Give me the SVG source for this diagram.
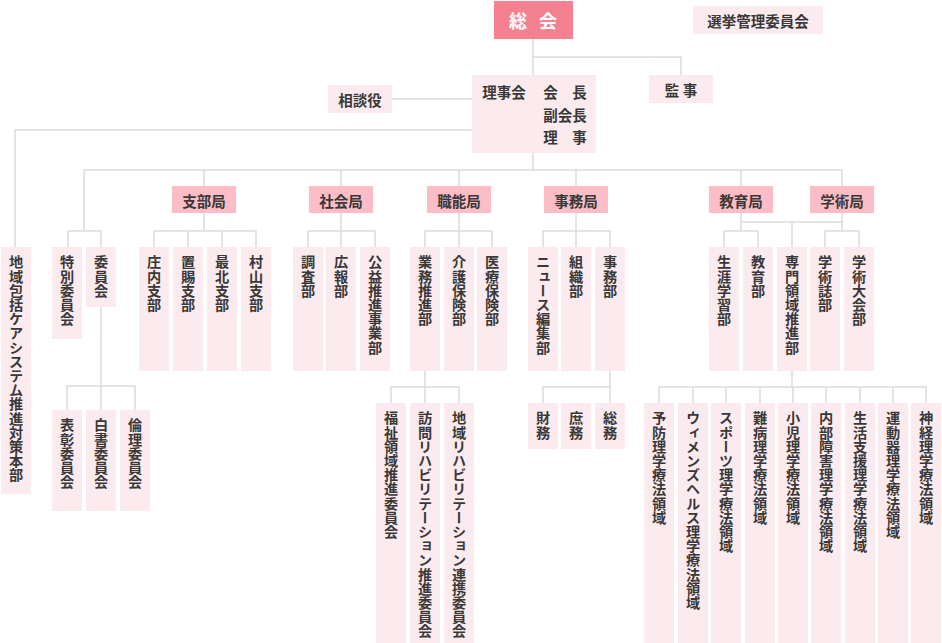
<svg xmlns="http://www.w3.org/2000/svg" width="942" height="643" viewBox="0 0 942 643">
<style>
text{font-family:"Noto Sans CJK JP","Noto Sans CJK SC",sans-serif;fill:#383838;font-size:14.5px;font-weight:bold}
.h{text-anchor:middle;dominant-baseline:central}
.v{writing-mode:vertical-rl;font-size:14.2px}
.p{fill:#fcebee}
.m{fill:#fdbdc6}
.t{fill:#f4818f}
.c{fill:none;stroke:#dcdcdc;stroke-width:1.5}
</style>
<rect width="942" height="643" fill="#fff"/>
<g id="connectors" class="c">
<path d="M533 39V75M533 57H681V75M392 99H472M472 130H15V247M533 153V170"/>
<path d="M84 170H842M84 170V231M68 247V231H101V247"/>
<path d="M204 170V186M204 213V231M154 247V231H256V247M188 231V247M222 231V247"/>
<path d="M341 170V186M341 213V247M308 247V231H375V247"/>
<path d="M459 170V186M459 213V247M425 247V231H492V247"/>
<path d="M576 170V186M576 213V247M543 247V231H610V247"/>
<path d="M741 170V186M741 213V231M842 170V186M842 213V231M741 222H842M792 222V247M724 247V231H758V247M825 247V231H859V247"/>
<path d="M101 307V410M67 410V386H135V410"/>
<path d="M425 371V403M391 403V387H459V403"/>
<path d="M610 371V403M543 403V387H610"/>
<path d="M792 371V387M659 403V387H926V403M693 387V403M726 387V403M760 387V403M793 387V403M826 387V403M860 387V403M893 387V403"/>
</g>
<g id="soukai"><rect class="t" x="494" y="1" width="79" height="38"/><text class="h" x="535" y="20" style="fill:#fff;font-size:18px;letter-spacing:4px">総 会</text></g>
<g id="senkyo"><rect class="p" x="693" y="6" width="130" height="28"/><text class="h" x="758" y="20">選挙管理委員会</text></g>
<g id="kanji"><rect class="p" x="649" y="75" width="64" height="28"/><text class="h" x="681" y="89">監 事</text></g>
<g id="soudanyaku"><rect class="p" x="328" y="85" width="64" height="28"/><text class="h" x="360" y="99">相談役</text></g>
<g id="rijikai"><rect class="p" x="472" y="75" width="124" height="78"/>
<text class="h" x="504" y="91">理事会</text>
<text class="h" x="565" y="91">会　長</text>
<text class="h" x="565" y="114">副会長</text>
<text class="h" x="565" y="136">理　事</text></g>
<g id="shibukyoku"><rect class="m" x="172" y="186" width="64" height="27"/><text class="h" x="204" y="200">支部局</text></g>
<g id="shakaikyoku"><rect class="m" x="309" y="186" width="64" height="27"/><text class="h" x="341" y="200">社会局</text></g>
<g id="shokunoukyoku"><rect class="m" x="427" y="186" width="64" height="27"/><text class="h" x="459" y="200">職能局</text></g>
<g id="jimukyoku"><rect class="m" x="544" y="186" width="64" height="27"/><text class="h" x="576" y="200">事務局</text></g>
<g id="kyouikukyoku"><rect class="m" x="709" y="186" width="64" height="27"/><text class="h" x="741" y="200">教育局</text></g>
<g id="gakujutsukyoku"><rect class="m" x="810" y="186" width="64" height="27"/><text class="h" x="842" y="200">学術局</text></g>

<g id="chiiki"><rect class="p" x="1" y="247" width="30" height="247"/><text class="v" x="16" y="255">地域包括ケアシステム推進対策本部</text></g>
<g id="tokubetsu"><rect class="p" x="52" y="247" width="30" height="92"/><text class="v" x="67" y="255">特別委員会</text></g>
<g id="iinkai"><rect class="p" x="86" y="247" width="30" height="60"/><text class="v" x="101" y="255">委員会</text></g>
<g id="shonai"><rect class="p" x="139" y="247" width="30" height="124"/><text class="v" x="154" y="255">庄内支部</text></g>
<g id="okitama"><rect class="p" x="173" y="247" width="30" height="124"/><text class="v" x="188" y="255">置賜支部</text></g>
<g id="mogami"><rect class="p" x="207" y="247" width="30" height="124"/><text class="v" x="222" y="255">最北支部</text></g>
<g id="murayama"><rect class="p" x="241" y="247" width="30" height="124"/><text class="v" x="256" y="255">村山支部</text></g>
<g id="chousa"><rect class="p" x="293" y="247" width="30" height="124"/><text class="v" x="308" y="255">調査部</text></g>
<g id="kouhou"><rect class="p" x="326" y="247" width="30" height="124"/><text class="v" x="341" y="255">広報部</text></g>
<g id="koueki"><rect class="p" x="360" y="247" width="30" height="124"/><text class="v" x="375" y="255">公益推進事業部</text></g>
<g id="gyoumu"><rect class="p" x="410" y="247" width="30" height="124"/><text class="v" x="425" y="255">業務推進部</text></g>
<g id="kaigo"><rect class="p" x="444" y="247" width="30" height="124"/><text class="v" x="459" y="255">介護保険部</text></g>
<g id="iryou"><rect class="p" x="477" y="247" width="30" height="124"/><text class="v" x="492" y="255">医療保険部</text></g>
<g id="news"><rect class="p" x="528" y="247" width="30" height="124"/><text class="v" x="543" y="255">ニュース編集部</text></g>
<g id="soshiki"><rect class="p" x="561" y="247" width="30" height="124"/><text class="v" x="576" y="255">組織部</text></g>
<g id="jimubu"><rect class="p" x="595" y="247" width="30" height="124"/><text class="v" x="610" y="255">事務部</text></g>
<g id="shougai"><rect class="p" x="709" y="247" width="30" height="124"/><text class="v" x="724" y="255">生涯学習部</text></g>
<g id="kyouikubu"><rect class="p" x="743" y="247" width="30" height="124"/><text class="v" x="758" y="255">教育部</text></g>
<g id="senmon"><rect class="p" x="777" y="247" width="30" height="124"/><text class="v" x="792" y="255">専門領域推進部</text></g>
<g id="gakujutsushi"><rect class="p" x="810" y="247" width="30" height="124"/><text class="v" x="825" y="255">学術誌部</text></g>
<g id="gakujutsutaikai"><rect class="p" x="844" y="247" width="30" height="124"/><text class="v" x="859" y="255">学術大会部</text></g>

<g id="hyoushou"><rect class="p" x="52" y="410" width="30" height="101"/><text class="v" x="67" y="418">表彰委員会</text></g>
<g id="hakusho"><rect class="p" x="86" y="410" width="30" height="101"/><text class="v" x="101" y="418">白書委員会</text></g>
<g id="rinri"><rect class="p" x="120" y="410" width="30" height="101"/><text class="v" x="135" y="418">倫理委員会</text></g>

<g id="fukushi"><rect class="p" x="376" y="403" width="30" height="240"/><text class="v" x="391" y="411">福祉領域推進委員会</text></g>
<g id="houmon"><rect class="p" x="410" y="403" width="30" height="240"/><text class="v" x="425" y="411">訪問リハビリテーション推進委員会</text></g>
<g id="chiikireha"><rect class="p" x="444" y="403" width="30" height="240"/><text class="v" x="459" y="411">地域リハビリテーション連携委員会</text></g>

<g id="zaimu"><rect class="p" x="528" y="403" width="30" height="46"/><text class="v" x="543" y="411">財務</text></g>
<g id="shomu"><rect class="p" x="561" y="403" width="30" height="46"/><text class="v" x="576" y="411">庶務</text></g>
<g id="soumu"><rect class="p" x="595" y="403" width="30" height="46"/><text class="v" x="610" y="411">総務</text></g>

<g id="yobou"><rect class="p" x="644" y="403" width="30" height="240"/><text class="v" x="659" y="411">予防理学療法領域</text></g>
<g id="women"><rect class="p" x="678" y="403" width="30" height="240"/><text class="v" x="693" y="411">ウィメンズヘルス理学療法領域</text></g>
<g id="sports"><rect class="p" x="711" y="403" width="30" height="240"/><text class="v" x="726" y="411">スポーツ理学療法領域</text></g>
<g id="nanbyou"><rect class="p" x="745" y="403" width="30" height="240"/><text class="v" x="760" y="411">難病理学療法領域</text></g>
<g id="shouni"><rect class="p" x="778" y="403" width="30" height="240"/><text class="v" x="793" y="411">小児理学療法領域</text></g>
<g id="naibu"><rect class="p" x="811" y="403" width="30" height="240"/><text class="v" x="826" y="411">内部障害理学療法領域</text></g>
<g id="seikatsu"><rect class="p" x="845" y="403" width="30" height="240"/><text class="v" x="860" y="411">生活支援理学療法領域</text></g>
<g id="undouki"><rect class="p" x="878" y="403" width="30" height="240"/><text class="v" x="893" y="411">運動器理学療法領域</text></g>
<g id="shinkei"><rect class="p" x="911" y="403" width="30" height="240"/><text class="v" x="926" y="411">神経理学療法領域</text></g>
</svg>
